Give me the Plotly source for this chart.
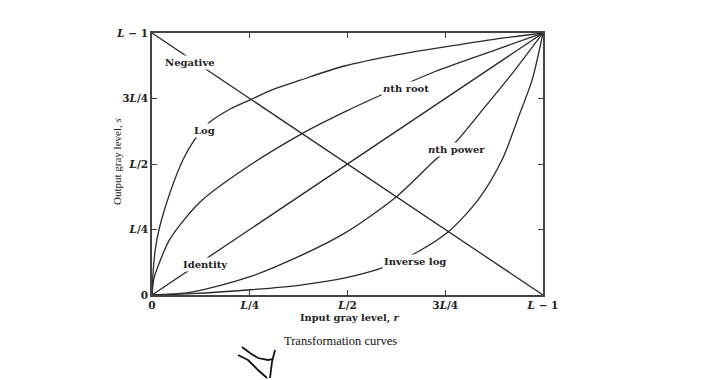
import plotly.graph_objects as go

# ---- data (input level r and output level s, as fraction of L-1) ----
neg_r = [0, 1]
neg_s = [1, 0]

ident_r = [0, 1]
ident_s = [0, 1]

log_r = [0, 0.003, 0.008, 0.018, 0.046, 0.079, 0.11, 0.148, 0.2, 0.251, 0.31, 0.379, 0.494, 0.62, 0.749, 0.87, 1]
log_s = [0, 0.09, 0.17, 0.25, 0.39, 0.515, 0.595, 0.66, 0.71, 0.745, 0.785, 0.82, 0.875, 0.915, 0.947, 0.975, 1]

root_r = [0, 0.005, 0.013, 0.046, 0.123, 0.251, 0.386, 0.494, 0.596, 0.724, 0.877, 1]
root_s = [0, 0.065, 0.1, 0.214, 0.355, 0.496, 0.618, 0.7, 0.77, 0.853, 0.935, 1]

power_r = [0, 0.1, 0.251, 0.38, 0.494, 0.621, 0.724, 0.777, 0.85, 0.921, 1]
power_s = [0, 0.011, 0.07, 0.15, 0.237, 0.37, 0.515, 0.584, 0.715, 0.845, 1]

invlog_r = [0, 0.1, 0.251, 0.38, 0.494, 0.596, 0.68, 0.757, 0.834, 0.895, 0.94, 0.972, 1]
invlog_s = [0, 0.005, 0.02, 0.038, 0.065, 0.107, 0.165, 0.24, 0.363, 0.515, 0.69, 0.82, 1]

tick_vals = [0, 0.25, 0.5, 0.75, 1]
tick_text = ["<b>0</b>", "<b><i>L</i>/4</b>", "<b><i>L</i>/2</b>", "<b>3<i>L</i>/4</b>", "<b><i>L</i> − 1</b>"]

curve_labels = ["Negative", "Log", "Identity", "<i>n</i>th root", "<i>n</i>th power", "Inverse log"]
label_pos = [(0.096, 0.888), (0.133, 0.626), (0.136, 0.115), (0.650, 0.790), (0.778, 0.557), (0.673, 0.126)]

# ---- figure ----
OFF = 8                     # page body margin of the html page
W, H = 710 - OFF, 380 - OFF
L, T = 152 - OFF, 33 - OFF
PW, PH = 543 - 152, 295 - 33
MR, MB = W - (L + PW), H - (T + PH)

def px2paper(px, py):
    # page pixel -> paper coordinates
    return (px - 152) / PW, (295 - py) / PH

fig = go.Figure()
line_style = dict(color="#2a2a2a", width=1.3, shape="spline", smoothing=0.8)
for xs, ys in [(neg_r, neg_s), (ident_r, ident_s), (log_r, log_s),
               (root_r, root_s), (power_r, power_s), (invlog_r, invlog_s)]:
    fig.add_trace(go.Scatter(x=xs, y=ys, mode="lines", line=line_style,
                             showlegend=False, hoverinfo="skip"))

axis_common = dict(range=[0, 1], tickvals=tick_vals, ticktext=tick_text,
                   ticks="inside", ticklen=5, tickwidth=1.2, tickcolor="#444",
                   showline=True, linecolor="#444", linewidth=1.5, mirror="ticks",
                   showgrid=False, zeroline=False,
                   tickfont=dict(family="DejaVu Serif", size=10.5, color="#222"))
fig.update_xaxes(**axis_common)
fig.update_yaxes(**axis_common)

annotations = []
for text, (x, y) in zip(curve_labels, label_pos):
    annotations.append(dict(x=x, y=y, xref="x", yref="y", text="<b>" + text + "</b>",
                            showarrow=False, bgcolor="white", borderpad=1,
                            xanchor="center", yanchor="middle",
                            font=dict(family="DejaVu Serif", size=10, color="#222")))

xt = px2paper(350, 318)
annotations.append(dict(x=xt[0], y=xt[1], xref="paper", yref="paper",
                        xanchor="center", yanchor="middle",
                        text="<b>Input gray level, <i>r</i></b>", showarrow=False,
                        font=dict(family="DejaVu Serif", size=9.8, color="#222")))
yt = px2paper(117, 162)
annotations.append(dict(x=yt[0], y=yt[1], xref="paper", yref="paper",
                        xanchor="center", yanchor="middle",
                        text="Output gray level, <i>s</i>", showarrow=False, textangle=-90,
                        font=dict(family="Liberation Serif", size=11, color="#222")))
ct = px2paper(340, 341)
annotations.append(dict(x=ct[0], y=ct[1], xref="paper", yref="paper",
                        xanchor="center", yanchor="middle",
                        text="Transformation curves", showarrow=False,
                        font=dict(family="Liberation Serif", size=12.5, color="#111")))

# hand-drawn scribble below the chart (page pixels)
strokes = [
    [(242, 347), (250, 353), (258, 358), (268, 360), (272, 359)],
    [(238, 355), (248, 360), (258, 370), (267, 378)],
    [(275, 350), (272, 362), (270, 378)],
]
shapes = []
for st in strokes:
    pts = [px2paper(*p) for p in st]
    path = "M " + " L ".join(f"{a:.4f},{b:.4f}" for a, b in pts)
    shapes.append(dict(type="path", path=path, xref="paper", yref="paper",
                       line=dict(color="#111", width=1.8)))

fig.update_layout(width=W, height=H, margin=dict(l=L, r=MR, t=T, b=MB),
                  paper_bgcolor="white", plot_bgcolor="white",
                  annotations=annotations, shapes=shapes)

fig.write_html("out.html")
